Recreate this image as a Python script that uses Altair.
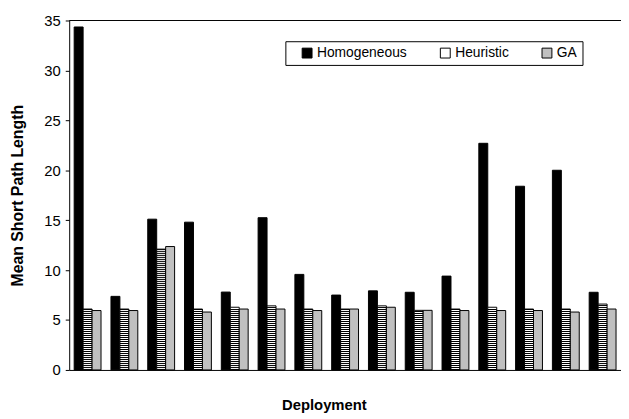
import altair as alt
import pandas as pd

groups = [str(i) for i in range(1, 16)]
series = ["Homogeneous", "Heuristic", "GA"]
homogeneous = [34.35, 7.37, 15.1, 14.8, 7.8, 15.25, 9.57, 7.5, 7.92, 7.78, 9.4, 22.7, 18.4, 20.0, 7.78]
heuristic = [6.1, 6.1, 12.1, 6.1, 6.28, 6.42, 6.1, 6.1, 6.42, 5.97, 6.1, 6.28, 6.1, 6.1, 6.6]
ga = [5.95, 5.95, 12.36, 5.8, 6.1, 6.1, 5.95, 6.1, 6.28, 5.97, 5.95, 5.95, 5.95, 5.8, 6.1]
colors = ["#000000", "#ffffff", "#c0c0c0"]

rows = []
for name, vals in zip(series, [homogeneous, heuristic, ga]):
    for g, v in zip(groups, vals):
        rows.append({"group": g, "series": name, "value": v})
df = pd.DataFrame(rows)

stripe_step = 0.2
stripes = []
for g, v in zip(groups, heuristic):
    k = 0
    while k * stripe_step + stripe_step / 2 <= v:
        stripes.append({"group": g, "series": "Heuristic",
                        "y0": k * stripe_step, "y1": k * stripe_step + stripe_step / 2})
        k += 1
sdf = pd.DataFrame(stripes)

x_enc = alt.X("group:N", sort=groups,
              scale=alt.Scale(paddingInner=0.27, paddingOuter=0.135),
              axis=alt.Axis(labels=False, ticks=False, domainColor="black", title="Deployment",
                            titleFontSize=15, titleFontWeight="bold", titleX=258, titleY=28,
                            titleBaseline="top"))
xo_enc = alt.XOffset("series:N", sort=series, scale=alt.Scale(domain=series, paddingInner=0, paddingOuter=0))

bars = alt.Chart(df).mark_bar(stroke="black", strokeWidth=1).encode(
    x=x_enc,
    xOffset=xo_enc,
    y=alt.Y("value:Q", scale=alt.Scale(domain=[0, 35], nice=False),
            axis=alt.Axis(values=[0, 5, 10, 15, 20, 25, 30, 35], grid=False, domainColor="black",
                          tickColor="black", tickSize=4, labelFontSize=15, labelPadding=5,
                          labelColor="black", title="Mean Short Path Length", titleFontSize=16,
                          titleFontWeight="bold", titleX=-44, titleY=177, titleBaseline="bottom")),
    color=alt.Color("series:N", sort=series, title=" ",
                    scale=alt.Scale(domain=series, range=colors),
                    legend=alt.Legend(orient="none", legendX=219, legendY=21, direction="horizontal",
                                      strokeColor="black", fillColor="white", padding=5,
                                      titleOrient="left", titleFontSize=14, titlePadding=10,
                                      symbolType="square", symbolSize=100, symbolStrokeColor="black",
                                      symbolStrokeWidth=1, symbolOpacity=1, labelFontSize=14, labelOffset=3,
                                      columnPadding=31, labelColor="black")),
)

stripe_layer = alt.Chart(sdf).mark_bar(color="black", strokeWidth=0).encode(
    x=alt.X("group:N", sort=groups),
    xOffset=alt.XOffset("series:N", scale=alt.Scale(domain=series)),
    y="y0:Q",
    y2="y1:Q",
)

top_line = alt.Chart(pd.DataFrame({"v": [35]})).mark_rule(color="black", strokeWidth=1).encode(
    y=alt.Y("v:Q"))

chart = alt.layer(bars, stripe_layer, top_line).properties(
    width=559, height=354,
    autosize=alt.AutoSizeParams(type="none"),
    padding={"left": 62, "top": 10, "right": 0, "bottom": 45},
).configure(font="Liberation Sans").configure_view(stroke=None)

chart.save("out.html", embed_options={"renderer": "svg", "actions": False})
